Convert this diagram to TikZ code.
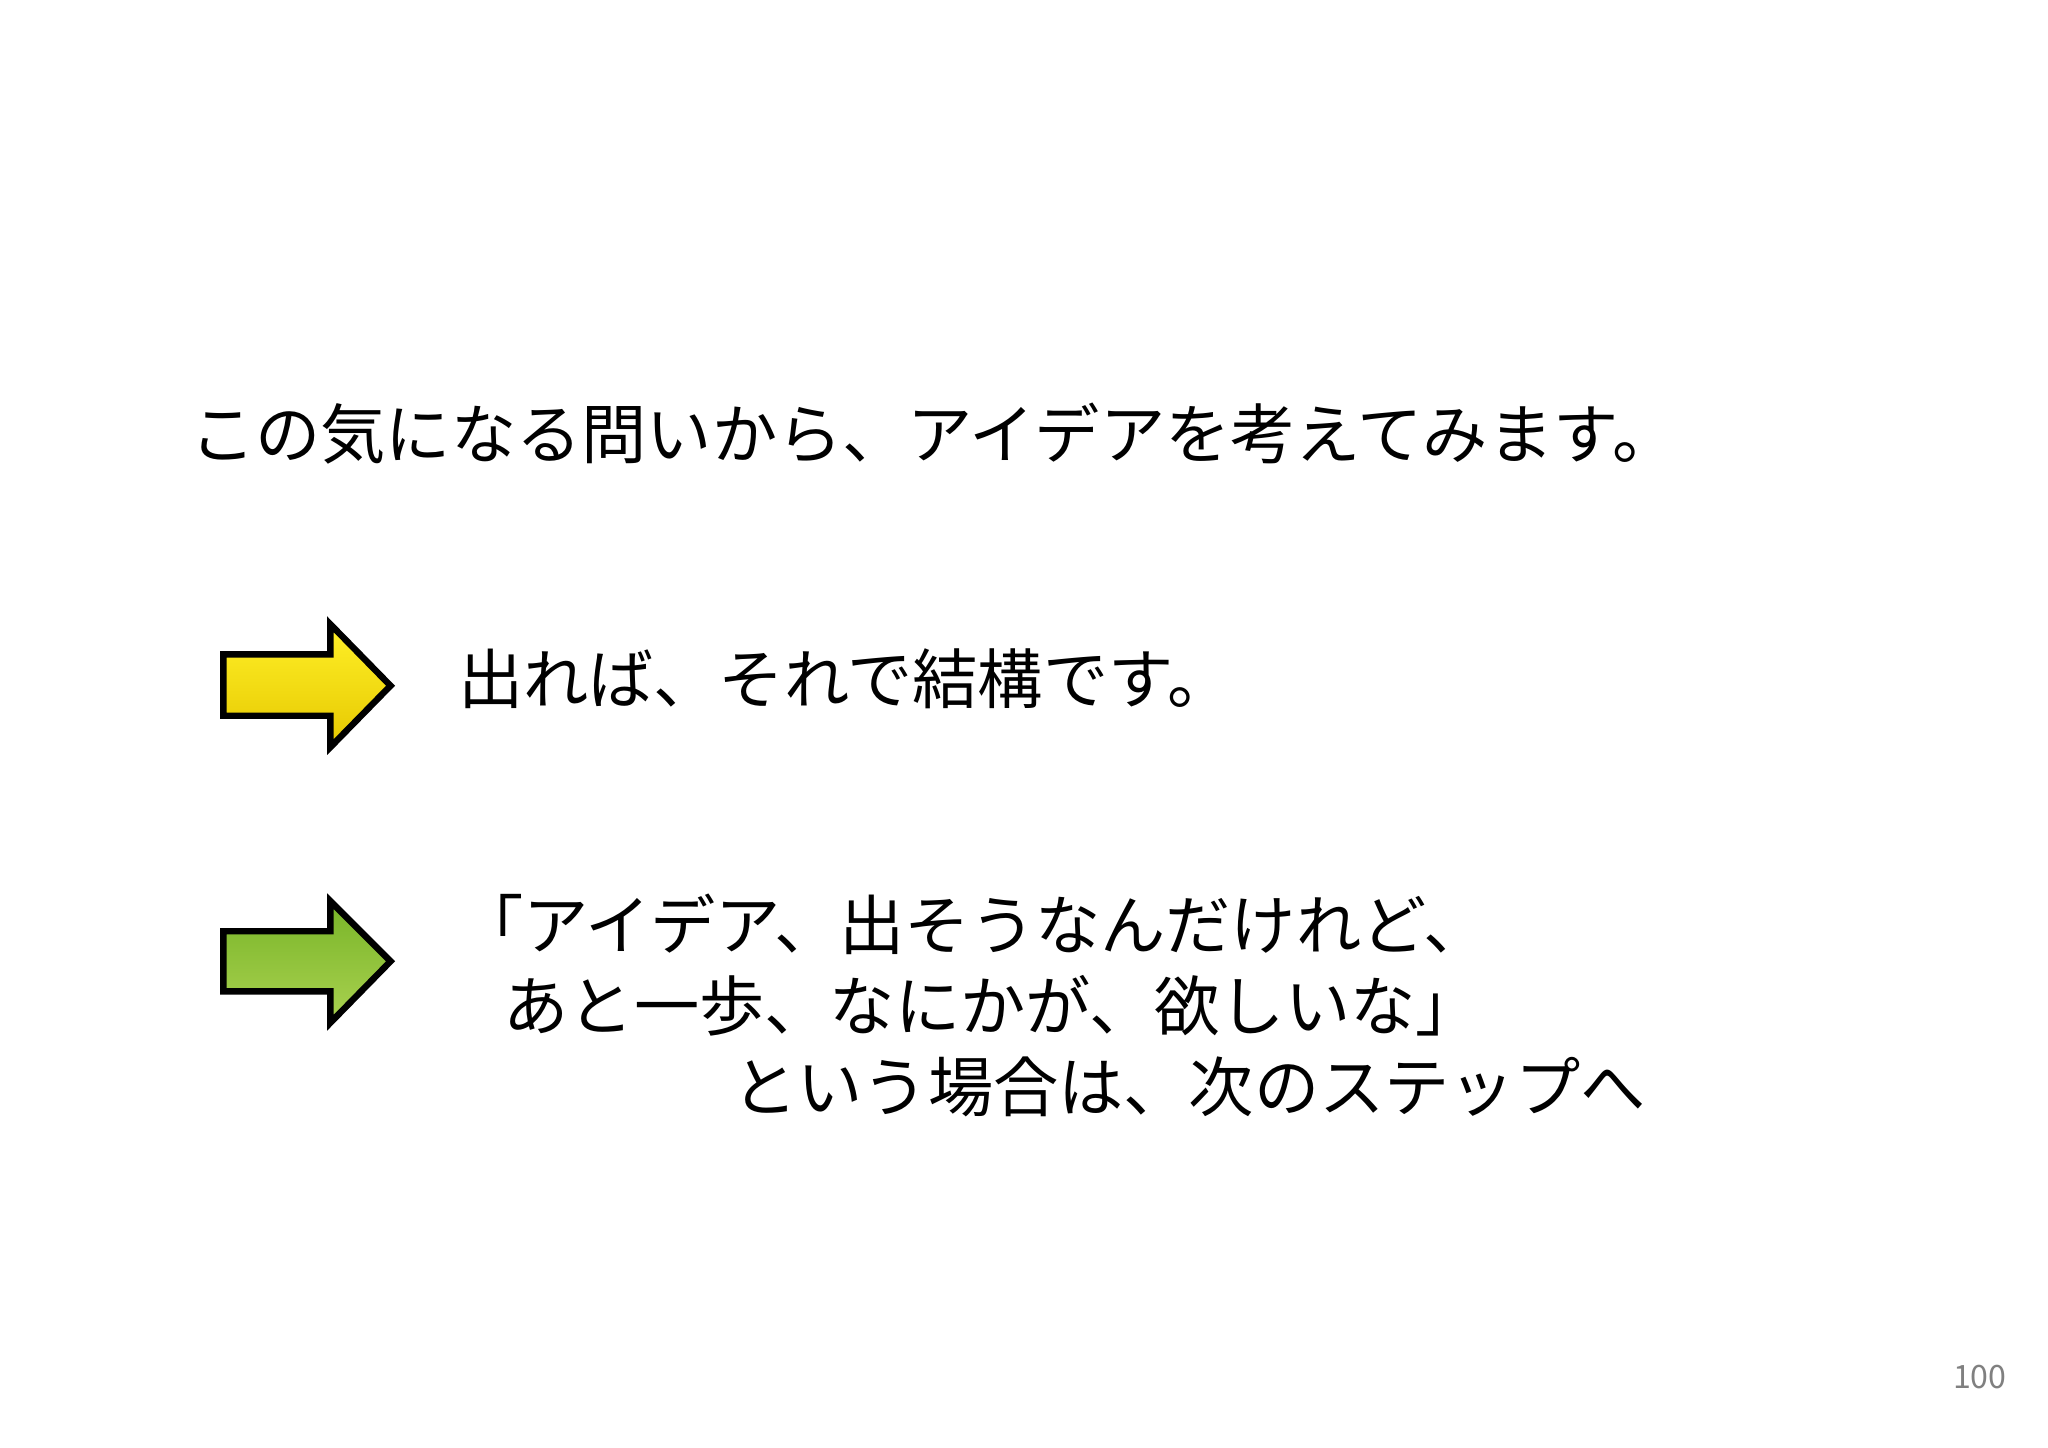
\documentclass[tikz,border=0pt]{standalone}
\usepackage{fontspec}
\newfontfamily\jp{Noto Sans CJK JP}
\definecolor{ytop}{RGB}{255,240,40}
\definecolor{ybot}{RGB}{230,200,0}
\definecolor{gtop}{RGB}{120,180,40}
\definecolor{gbot}{RGB}{170,210,80}
\tikzset{
 txt/.style={anchor=west,inner sep=0pt,font=\jp\fontsize{14.2pt}{18pt}\selectfont},
 arr/.style={draw=black,line width=1.4pt,line join=miter}
}
\begin{document}
\begin{tikzpicture}[x=0.01cm,y=-0.01cm]
\useasboundingbox (0,0) rectangle (1568,1108);
\node[txt] (t1) at (145,332) {この気になる問いから、アイデアを考えてみます。};
\path[arr,top color=ytop,bottom color=ybot] (171,501) -- (253,501) -- (253,478) -- (299,525) -- (253,572) -- (253,548) -- (171,548) -- cycle;
\node[txt] (t2) at (350,520) {出れば、それで結構です。};
\path[arr,top color=gtop,bottom color=gbot] (171,713) -- (253,713) -- (253,690) -- (299,736) -- (253,783) -- (253,759) -- (171,759) -- cycle;
\node[txt] (t3) at (350,708) {「アイデア、出そうなんだけれど、};
\node[txt] (t4) at (385,770) {あと一歩、なにかが、欲しいな」};
\node[txt] (t5) at (560,832) {という場合は、次のステップへ};
\node[anchor=east,inner sep=0pt,text=gray,font=\jp\fontsize{7pt}{8pt}\selectfont] (pg) at (1537,1054) {100};
\end{tikzpicture}
\end{document}
